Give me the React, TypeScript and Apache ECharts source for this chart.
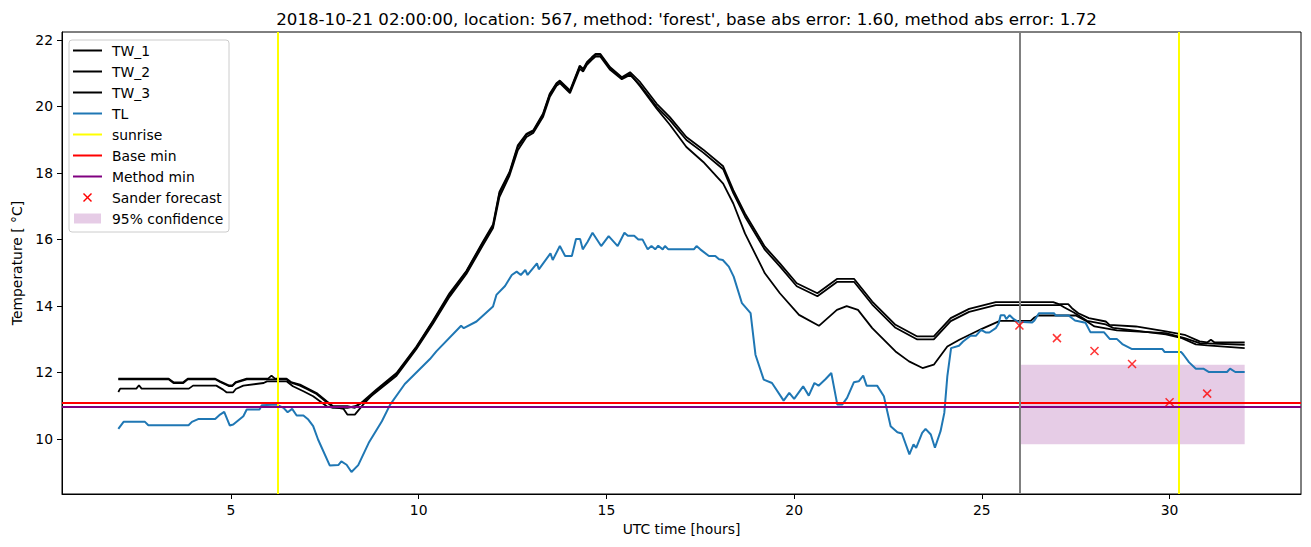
import React, { useEffect, useRef } from "react";
import * as echarts from "echarts";

const TITLE =
  "2018-10-21 02:00:00, location: 567, method: 'forest', base abs error: 1.60, method abs error: 1.72";
const X_TICKS = [5, 10, 15, 20, 25, 30];
const Y_TICKS = [10, 12, 14, 16, 18, 20, 22];

const tw1: [number, number][] = [
  [2.0, 11.81], [3.34, 11.81], [3.47, 11.7], [3.73, 11.7], [3.85, 11.81], [4.58, 11.81], [4.71, 11.73],
  [4.94, 11.61], [5.04, 11.61], [5.13, 11.71], [5.42, 11.81], [5.99, 11.81], [6.08, 11.9], [6.17, 11.81],
  [6.48, 11.81], [6.6, 11.71], [6.84, 11.63], [7.02, 11.53], [7.28, 11.38], [7.55, 11.13], [7.72, 10.98],
  [8.1, 10.98], [8.3, 10.93], [8.52, 11.13], [8.87, 11.48], [9.41, 11.98], [9.94, 12.78], [10.38, 13.55],
  [10.82, 14.38], [11.27, 15.05], [11.71, 15.93], [11.98, 16.45], [12.15, 17.43], [12.42, 18.03],
  [12.64, 18.83], [12.87, 19.18], [13.05, 19.28], [13.31, 19.78], [13.49, 20.38], [13.67, 20.7],
  [13.76, 20.78], [14.03, 20.48], [14.29, 21.23], [14.38, 21.13], [14.48, 21.33], [14.61, 21.48],
  [14.71, 21.58], [14.84, 21.58], [15.1, 21.18], [15.41, 20.88], [15.63, 21.03], [15.9, 20.73],
  [16.34, 20.08], [16.69, 19.68], [17.13, 19.08], [17.58, 18.7], [18.11, 18.2], [18.38, 17.48],
  [18.69, 16.78], [19.22, 15.78], [19.62, 15.28], [20.07, 14.68], [20.62, 14.38], [21.14, 14.81],
  [21.6, 14.81], [22.08, 14.13], [22.7, 13.43], [23.28, 13.08], [23.72, 13.08], [24.17, 13.63],
  [24.66, 13.91], [25.37, 14.11], [26.9, 14.11], [27.05, 14.05], [27.3, 14.05], [27.4, 13.93],
  [27.57, 13.78], [27.85, 13.63], [28.3, 13.53], [28.4, 13.43], [29.1, 13.38], [29.9, 13.23],
  [30.4, 13.13], [30.8, 12.93], [31.0, 12.9], [31.1, 12.98], [31.2, 12.9], [32.0, 12.9],
];

const tw2: [number, number][] = [
  [2.0, 11.41], [2.05, 11.51], [2.48, 11.51], [2.55, 11.61], [2.62, 11.51], [3.88, 11.51], [3.99, 11.6],
  [4.61, 11.6], [4.79, 11.48], [4.88, 11.4], [5.06, 11.4], [5.13, 11.5], [5.33, 11.6], [5.87, 11.68],
  [5.96, 11.73], [6.48, 11.73], [6.65, 11.58], [6.93, 11.43], [7.19, 11.28], [7.55, 10.98], [7.72, 10.93],
  [8.1, 10.93], [8.3, 10.98], [8.52, 11.1], [8.87, 11.41], [9.41, 11.9], [9.94, 12.7], [10.38, 13.46],
  [10.82, 14.27], [11.27, 14.96], [11.71, 15.82], [11.98, 16.34], [12.15, 17.27], [12.42, 17.92],
  [12.64, 18.68], [12.87, 19.08], [13.05, 19.2], [13.31, 19.68], [13.49, 20.28], [13.67, 20.62],
  [13.76, 20.7], [14.03, 20.4], [14.29, 21.13], [14.38, 21.05], [14.48, 21.25], [14.61, 21.4],
  [14.71, 21.5], [14.84, 21.5], [15.1, 21.1], [15.41, 20.82], [15.63, 20.95], [15.9, 20.64],
  [16.34, 19.99], [16.69, 19.59], [17.13, 18.99], [17.58, 18.61], [18.11, 18.11], [18.38, 17.39],
  [18.69, 16.69], [19.22, 15.69], [19.62, 15.19], [20.07, 14.59], [20.62, 14.29], [21.14, 14.72],
  [21.6, 14.72], [22.08, 14.04], [22.7, 13.34], [23.28, 12.99], [23.72, 12.99], [24.17, 13.54],
  [24.66, 13.82], [25.37, 14.02], [27.1, 14.02], [27.2, 13.95], [27.45, 13.8], [27.8, 13.55],
  [28.3, 13.44], [28.5, 13.34], [29.9, 13.14], [30.3, 13.04], [30.7, 12.84], [31.0, 12.81], [32.0, 12.73],
];

const tw3: [number, number][] = [
  [2.0, 11.79], [3.34, 11.79], [3.47, 11.68], [3.73, 11.68], [3.85, 11.79], [4.58, 11.79], [4.71, 11.71],
  [4.94, 11.59], [5.04, 11.59], [5.13, 11.69], [5.42, 11.79], [6.0, 11.79], [6.48, 11.79], [6.6, 11.69],
  [6.84, 11.6], [7.02, 11.5], [7.28, 11.35], [7.55, 11.1], [7.72, 10.96], [8.0, 10.9], [8.1, 10.73],
  [8.3, 10.73], [8.52, 11.03], [8.87, 11.45], [9.41, 11.95], [9.94, 12.75], [10.38, 13.53], [10.82, 14.33],
  [11.27, 15.03], [11.71, 15.9], [11.98, 16.4], [12.15, 17.38], [12.42, 18.0], [12.64, 18.78],
  [12.87, 19.15], [13.05, 19.25], [13.31, 19.75], [13.49, 20.35], [13.67, 20.68], [13.76, 20.75],
  [14.03, 20.45], [14.29, 21.2], [14.38, 21.1], [14.48, 21.3], [14.61, 21.45], [14.71, 21.55],
  [14.84, 21.55], [15.1, 21.15], [15.41, 20.85], [15.63, 20.98], [15.9, 20.6], [16.34, 19.93],
  [16.69, 19.45], [17.13, 18.78], [17.58, 18.33], [18.11, 17.68], [18.38, 17.08], [18.69, 16.18],
  [19.22, 14.98], [19.62, 14.38], [20.13, 13.73], [20.66, 13.4], [21.14, 13.88], [21.4, 13.99],
  [21.7, 13.88], [22.08, 13.33], [22.7, 12.63], [23.06, 12.33], [23.42, 12.13], [23.72, 12.23],
  [24.08, 12.78], [24.4, 12.98], [25.0, 13.31], [25.48, 13.55], [26.3, 13.55], [26.4, 13.65],
  [26.5, 13.71], [27.5, 13.71], [27.8, 13.53], [28.0, 13.38], [28.6, 13.26], [29.9, 13.18],
  [30.4, 13.03], [30.8, 12.88], [32.0, 12.83],
];

const tl: [number, number][] = [
  [2.0, 10.3], [2.14, 10.51], [2.71, 10.51], [2.8, 10.41], [3.87, 10.41], [3.96, 10.51], [4.14, 10.6],
  [4.58, 10.6], [4.71, 10.73], [4.82, 10.81], [4.97, 10.4], [5.06, 10.43], [5.33, 10.68], [5.42, 10.88],
  [5.76, 10.88], [5.82, 11.01], [6.22, 11.03], [6.4, 10.93], [6.51, 10.8], [6.63, 10.9], [6.75, 10.7],
  [6.93, 10.7], [7.06, 10.58], [7.19, 10.38], [7.32, 9.98], [7.63, 9.2], [7.86, 9.21], [7.94, 9.32],
  [8.08, 9.22], [8.21, 9.0], [8.39, 9.21], [8.67, 9.88], [9.02, 10.53], [9.24, 11.03], [9.63, 11.65],
  [10.3, 12.4], [10.47, 12.63], [11.13, 13.4], [11.2, 13.33], [11.54, 13.53], [11.98, 13.98],
  [12.07, 14.33], [12.3, 14.6], [12.48, 14.93], [12.61, 15.03], [12.72, 14.93], [12.84, 15.08],
  [12.9, 14.93], [13.15, 15.28], [13.2, 15.1], [13.51, 15.58], [13.57, 15.38], [13.76, 15.8],
  [13.9, 15.5], [14.08, 15.5], [14.19, 16.01], [14.3, 16.01], [14.37, 15.7], [14.5, 15.93],
  [14.63, 16.2], [14.86, 15.8], [15.06, 16.1], [15.3, 15.8], [15.48, 16.2], [15.57, 16.11],
  [15.74, 16.11], [15.85, 16.0], [15.96, 16.0], [16.1, 15.7], [16.2, 15.8], [16.3, 15.7], [16.38, 15.81],
  [16.5, 15.7], [16.56, 15.8], [16.65, 15.7], [17.33, 15.7], [17.4, 15.8], [17.5, 15.7], [17.73, 15.5],
  [17.9, 15.5], [18.0, 15.4], [18.1, 15.38], [18.26, 15.18], [18.39, 14.88], [18.61, 14.08],
  [18.84, 13.78], [18.97, 12.53], [19.19, 11.78], [19.41, 11.68], [19.72, 11.15], [19.87, 11.38],
  [20.0, 11.2], [20.24, 11.58], [20.39, 11.3], [20.54, 11.68], [20.65, 11.6], [20.84, 11.8],
  [20.99, 11.98], [21.15, 11.03], [21.28, 11.03], [21.41, 11.23], [21.59, 11.7], [21.72, 11.73],
  [21.84, 11.9], [21.93, 11.6], [22.21, 11.6], [22.39, 11.28], [22.57, 10.38], [22.75, 10.2],
  [22.87, 10.16], [23.07, 9.53], [23.18, 9.83], [23.25, 9.73], [23.41, 10.18], [23.5, 10.3],
  [23.64, 10.13], [23.75, 9.73], [23.9, 10.23], [24.0, 10.78], [24.08, 11.88], [24.18, 12.73],
  [24.39, 12.8], [24.5, 12.93], [24.7, 13.1], [24.84, 13.1], [24.98, 13.28], [25.1, 13.2], [25.2, 13.2],
  [25.37, 13.33], [25.45, 13.48], [25.5, 13.72], [25.6, 13.72], [25.65, 13.6], [25.74, 13.72],
  [25.85, 13.6], [25.97, 13.52], [26.34, 13.5], [26.4, 13.56], [26.52, 13.78], [26.92, 13.78],
  [26.97, 13.71], [27.31, 13.71], [27.48, 13.56], [27.76, 13.49], [27.89, 13.21], [28.25, 13.21],
  [28.41, 13.0], [28.6, 13.0], [28.74, 12.85], [29.0, 12.7], [29.81, 12.7], [29.87, 12.61],
  [30.31, 12.61], [30.37, 12.53], [30.52, 12.3], [30.7, 12.11], [30.9, 12.11], [31.05, 12.01],
  [31.53, 12.01], [31.61, 12.11], [31.75, 12.01], [32.0, 12.01],
];

const sunriseHours = [6.25, 30.24];
const forecastStart = 26.0;
const baseMin = 11.09;
const methodMin = 10.98;
const forecastHours = [26, 27, 28, 29, 30, 31];
const forecastTemps = [13.41, 13.03, 12.64, 12.25, 11.1, 11.36];
const confidenceHours = [26, 32];
const confidenceTemps = [9.84, 12.23];

const FONT = "DejaVu Sans";
const FS = 13.9;

const legendItems = [
  { name: "TW_1", kind: "line", color: "#000000" },
  { name: "TW_2", kind: "line", color: "#000000" },
  { name: "TW_3", kind: "line", color: "#000000" },
  { name: "TL", kind: "line", color: "#1f77b4" },
  { name: "sunrise", kind: "line", color: "#ffff00" },
  { name: "Base min", kind: "line", color: "#ff0000" },
  { name: "Method min", kind: "line", color: "#800080" },
  { name: "Sander forecast", kind: "x", color: "#ff0000" },
  { name: "95% confidence", kind: "rect", color: "rgba(128,0,128,0.2)" },
];

function buildLegend() {
  const children: any[] = [
    {
      type: "rect",
      shape: { x: 69, y: 40, width: 160, height: 192, r: 3 },
      style: { fill: "rgba(255,255,255,0.8)", stroke: "#cccccc", lineWidth: 1 },
    },
  ];
  legendItems.forEach((it, i) => {
    const cy = 50.5 + i * 21;
    if (it.kind === "line") {
      children.push({
        type: "line",
        shape: { x1: 73, y1: cy, x2: 102, y2: cy },
        style: { stroke: it.color, lineWidth: 2 },
      });
    } else if (it.kind === "x") {
      children.push({
        type: "line",
        shape: { x1: 83.5, y1: cy - 4, x2: 91.5, y2: cy + 4 },
        style: { stroke: it.color, lineWidth: 1.5 },
      });
      children.push({
        type: "line",
        shape: { x1: 83.5, y1: cy + 4, x2: 91.5, y2: cy - 4 },
        style: { stroke: it.color, lineWidth: 1.5 },
      });
    } else {
      children.push({
        type: "rect",
        shape: { x: 74, y: cy - 5, width: 27, height: 10 },
        style: { fill: it.color },
      });
    }
    children.push({
      type: "text",
      x: 112,
      y: cy,
      style: {
        text: it.name,
        fill: "#000",
        font: `${FS}px '${FONT}'`,
        textVerticalAlign: "middle",
        verticalAlign: "middle",
      },
    });
  });
  return [{ type: "group", children, z: 100 }];
}

function vline(name: string, x: number, color: string) {
  return {
    name,
    type: "line",
    data: [],
    z: 5,
    markLine: {
      silent: true,
      symbol: ["none", "none"],
      label: { show: false },
      lineStyle: { color, width: 2, type: "solid" },
      data: [{ xAxis: x }],
    },
  };
}
function hline(name: string, y: number, color: string) {
  return {
    name,
    type: "line",
    data: [],
    z: 6,
    markLine: {
      silent: true,
      symbol: ["none", "none"],
      label: { show: false },
      lineStyle: { color, width: 2, type: "solid" },
      data: [{ yAxis: y }],
    },
  };
}

export default function App() {
  const ref = useRef<HTMLDivElement>(null);
  useEffect(() => {
    document.body.style.margin = "0";
    const chart = echarts.init(ref.current!, null, { renderer: "svg" });
    const lineSeries = (name: string, data: [number, number][], color: string, z: number, w: number) => ({
      name,
      type: "line",
      data,
      z,
      showSymbol: false,
      symbol: "none",
      lineStyle: { color, width: w },
      itemStyle: { color },
    });
    chart.setOption({
      animation: false,
      textStyle: { fontFamily: FONT },
      title: {
        text: TITLE,
        left: 681.5,
        textAlign: "center",
        top: 6,
        textStyle: { fontFamily: FONT, fontSize: 16.67, fontWeight: "normal", color: "#000" },
      },
      grid: {
        left: 62,
        right: 10,
        top: 32,
        bottom: 53,
        show: true,
        borderColor: "#000",
        borderWidth: 1,
        containLabel: false,
      },
      xAxis: {
        type: "value",
        min: 0.5,
        max: 33.5,
        name: "UTC time [hours]",
        nameLocation: "middle",
        nameGap: 28,
        nameTextStyle: { fontFamily: FONT, fontSize: FS, color: "#000" },
        axisLine: { show: true, onZero: false, lineStyle: { color: "#000", width: 1 } },
        axisTick: { show: true, length: 5, customValues: X_TICKS, lineStyle: { color: "#000" } },
        axisLabel: { customValues: X_TICKS, margin: 9, fontFamily: FONT, fontSize: FS, color: "#000" },
        splitLine: { show: false },
      },
      yAxis: {
        type: "value",
        min: 8.34,
        max: 22.24,
        name: "Temperature [ °C]",
        nameLocation: "middle",
        nameGap: 37,
        nameRotate: 90,
        nameTextStyle: { fontFamily: FONT, fontSize: FS, color: "#000" },
        axisLine: { show: true, onZero: false, lineStyle: { color: "#000", width: 1 } },
        axisTick: { show: true, length: 5, customValues: Y_TICKS, lineStyle: { color: "#000" } },
        axisLabel: { customValues: Y_TICKS, margin: 9, fontFamily: FONT, fontSize: FS, color: "#000" },
        splitLine: { show: false },
      },
      graphic: buildLegend(),
      series: [
        {
          name: "95% confidence",
          type: "line",
          data: [],
          z: 1,
          markArea: {
            silent: true,
            itemStyle: { color: "rgba(128,0,128,0.2)" },
            data: [
              [
                { xAxis: confidenceHours[0], yAxis: confidenceTemps[0] },
                { xAxis: confidenceHours[1], yAxis: confidenceTemps[1] },
              ],
            ],
          },
        },
        lineSeries("TW_1", tw1, "#000000", 2, 1.8),
        lineSeries("TW_2", tw2, "#000000", 2, 1.8),
        lineSeries("TW_3", tw3, "#000000", 2, 1.8),
        lineSeries("TL", tl, "#1f77b4", 3, 2),
        vline("sunrise", sunriseHours[0], "#ffff00"),
        vline("sunrise2", sunriseHours[1], "#ffff00"),
        hline("Base min", baseMin, "#ff0000"),
        hline("Method min", methodMin, "#800080"),
        vline("forecast start", forecastStart, "#808080"),
        {
          name: "Sander forecast",
          type: "scatter",
          z: 8,
          data: forecastHours.map((h, i) => [h, forecastTemps[i]]),
          symbol: "path://M0,0L10,10M10,0L0,10",
          symbolSize: 8,
          itemStyle: { color: "none", borderColor: "#ff0000", borderWidth: 1.5 },
        },
      ],
    });
    return () => chart.dispose();
  }, []);
  return (
    <div
      ref={ref}
      style={{ position: "absolute", left: 0, top: 0, width: 1311, height: 547, background: "#fff" }}
    />
  );
}
